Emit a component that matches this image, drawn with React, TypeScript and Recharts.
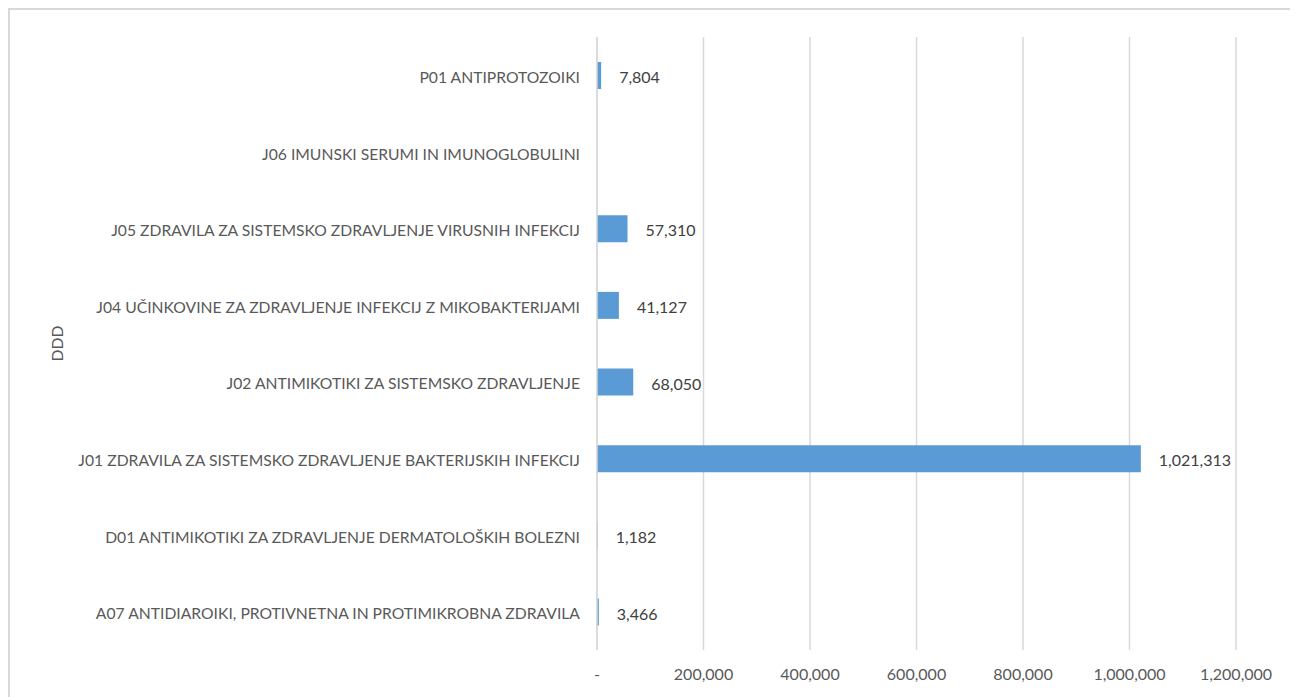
import React from "react";
import { Bar, BarChart, CartesianGrid, LabelList, XAxis, YAxis } from "recharts";

const categories = [
  "P01 ANTIPROTOZOIKI",
  "J06 IMUNSKI SERUMI IN IMUNOGLOBULINI",
  "J05 ZDRAVILA ZA SISTEMSKO ZDRAVLJENJE VIRUSNIH INFEKCIJ",
  "J04 UČINKOVINE ZA ZDRAVLJENJE INFEKCIJ Z MIKOBAKTERIJAMI",
  "J02 ANTIMIKOTIKI ZA SISTEMSKO ZDRAVLJENJE",
  "J01 ZDRAVILA ZA SISTEMSKO ZDRAVLJENJE BAKTERIJSKIH INFEKCIJ",
  "D01 ANTIMIKOTIKI ZA ZDRAVLJENJE DERMATOLOŠKIH BOLEZNI",
  "A07 ANTIDIAROIKI, PROTIVNETNA IN PROTIMIKROBNA ZDRAVILA",
];

const dddValues: (number | null)[] = [7804, null, 57310, 41127, 68050, 1021313, 1182, 3466];

const xTicks = [0, 200000, 400000, 600000, 800000, 1000000, 1200000];

const data = categories.map((name, i) => ({ name, ddd: dddValues[i] }));

const fmt = (v: number) => (v === 0 ? "-" : v.toLocaleString("en-US"));

const font = "Lato, 'Open Sans', sans-serif";

export default function App() {
  return (
    <div
      style={{
        width: 1290,
        height: 700,
        borderTop: "2px solid #d9d9d9",
        borderLeft: "2px solid #d9d9d9",
        background: "#fff",
        fontFamily: font,
      }}
    >
      <BarChart
        width={1290}
        height={700}
        data={data}
        layout="vertical"
        margin={{ top: 27, right: 64, bottom: 30, left: 39 }}
      >
        <CartesianGrid horizontal={false} stroke="#d9d9d9" strokeWidth={1.5} />
        <XAxis
          type="number"
          domain={[0, 1200000]}
          ticks={xTicks}
          tickFormatter={fmt}
          axisLine={false}
          tickLine={false}
          tickMargin={13}
          height={30}
          tick={{ fill: "#595959", fontSize: 16, fontFamily: font }}
        />
        <YAxis
          type="category"
          dataKey="name"
          width={548}
          axisLine={{ stroke: "#d9d9d9", strokeWidth: 1.5 }}
          tickLine={false}
          tickMargin={11}
          tick={{ fill: "#595959", fontSize: 15.7, fontFamily: font, dy: 2 }}
          label={{
            value: "DDD",
            angle: -90,
            position: "insideLeft",
            offset: 8,
            style: { textAnchor: "middle", fill: "#595959", fontSize: 15.7, fontFamily: font },
          }}
        />
        <Bar dataKey="ddd" fill="#5b9bd5" barSize={27} isAnimationActive={false}>
          <LabelList
            dataKey="ddd"
            position="right"
            offset={18}
            formatter={(v: any) => (v == null ? "" : Number(v).toLocaleString("en-US"))}
            style={{ fill: "#404040", fontSize: 16, fontFamily: font, transform: "translateY(2px)" }}
          />
        </Bar>
      </BarChart>
    </div>
  );
}
